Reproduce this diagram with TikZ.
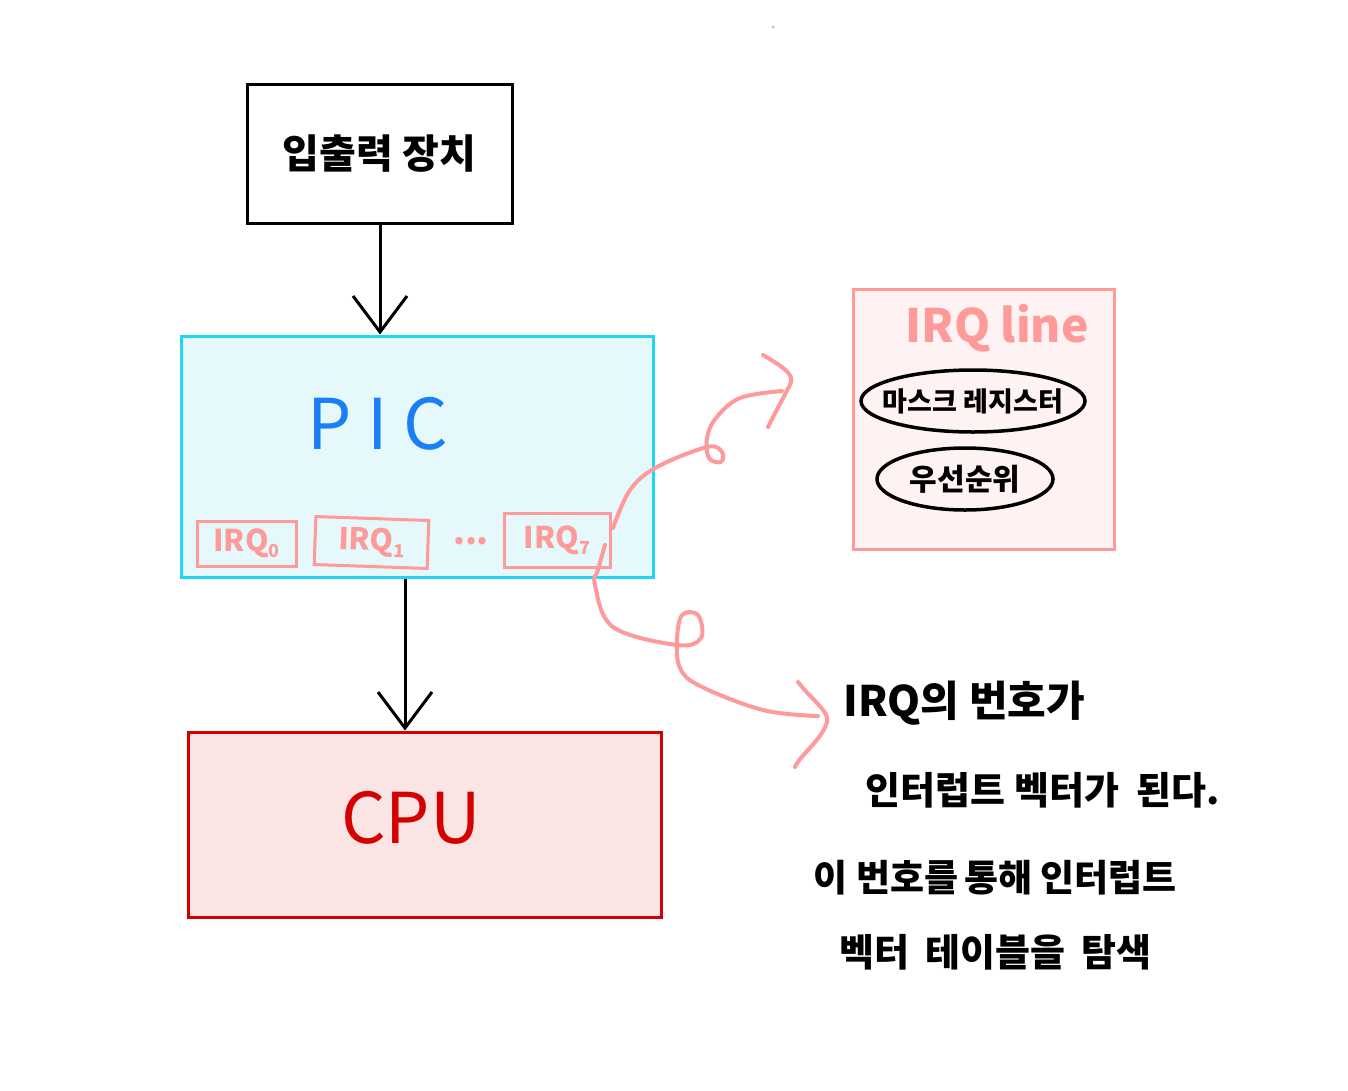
\documentclass[tikz,border=0pt]{standalone}
\usepackage{fontspec}
\setmainfont{Noto Sans CJK KR}
\usetikzlibrary{arrows.meta,shapes.geometric}
\definecolor{pinkc}{HTML}{FF9A9A}
\definecolor{cyanb}{HTML}{1ED6F8}
\definecolor{cyanf}{HTML}{E5F8FC}
\definecolor{bluet}{HTML}{1A7FF5}
\definecolor{redc}{HTML}{D50000}
\definecolor{redf}{HTML}{FAE4E4}
\definecolor{pinkf}{HTML}{FFF2F2}
\newcommand{\irqsub}[1]{\raisebox{-6pt}{\fontsize{18}{20}\selectfont #1}}
\tikzset{
  blackbox/.style={draw=black,line width=3pt,fill=white},
  irqbox/.style={draw=pinkc,line width=3pt,inner sep=0pt,text=pinkc,font=\fontsize{30}{32}\selectfont\bfseries},
  ovalbox/.style={draw=black,line width=3.5pt,ellipse,inner sep=0pt},
  pinkline/.style={draw=pinkc,line width=4pt,line cap=round,line join=round},
  blackarrow/.style={line width=3pt,-{Straight Barb[length=36pt,width=54pt,line width=3pt]}},
  hand/.style={anchor=west,font=\fontsize{38}{40}\selectfont\bfseries}
}
\begin{document}
\begin{tikzpicture}[x=1pt,y=-1pt]
\useasboundingbox (0,0) rectangle (1348,1090);
% IO device
\node[blackbox,minimum width=265pt,minimum height=139pt] (io) at (379.5,153.5) {\fontsize{40}{44}\selectfont\bfseries 입출력 장치};
% PIC
\node[draw=cyanb,fill=cyanf,line width=3pt,minimum width=472pt,minimum height=241pt] (pic) at (417,456.5) {};
\node[text=bluet,font=\fontsize{70}{80}\selectfont] (pict) at (378,424) {P I C};
\node[irqbox,minimum width=99pt,minimum height=45pt] (irq0) at (246.5,543.5) {IRQ\irqsub{0}};
\node[irqbox,minimum width=113pt,minimum height=48pt,rotate=-2] (irq1) at (371.5,542.5) {IRQ\irqsub{1}};
\node[text=pinkc,font=\fontsize{34}{34}\selectfont\bfseries] (dots) at (471,541) {...};
\node[irqbox,minimum width=106pt,minimum height=54pt] (irq7) at (557,540) {IRQ\irqsub{7}};
% CPU
\node[draw=redc,fill=redf,line width=3pt,minimum width=473pt,minimum height=185pt] (cpu) at (424.5,824.5) {};
\node[text=redc,font=\fontsize{70}{80}\selectfont] (cput) at (411,818) {CPU};
% arrows
\draw[blackarrow] (io.south -| 380,0) -- (pic.north -| 380,0);
\draw[blackarrow] (pic.south -| 405,0) -- (cpu.north -| 405,0);
% IRQ line box
\node[draw=pinkc,fill=pinkf,line width=3pt,minimum width=261pt,minimum height=260pt] (irqline) at (983.5,419) {};
\node[text=pinkc,font=\fontsize{46}{50}\selectfont\bfseries] (irqlt) at (997,328) {IRQ line};
\node[ovalbox,minimum width=224pt,minimum height=62pt] (mask) at (973,401) {};
\node[font=\fontsize{27}{30}\selectfont\bfseries] (maskt) at (mask.center) {마스크 레지스터};
\node[ovalbox,minimum width=176pt,minimum height=62pt] (prio) at (965,479) {};
\node[font=\fontsize{30}{32}\selectfont\bfseries] (priot) at (prio.center) {우선순위};
% curly arrows
\coordinate (upA) at (613,528);
\coordinate (loA) at (605,545);
\draw[pinkline] plot[smooth,tension=0.6] coordinates {(upA) (630,490) (657,467) (707,447) (722,452) (721,462) (709,458) (707,438) (716,418) (740,398) (782,391)};
\draw[pinkline] (763,355) .. controls (785,368) and (795,375) .. (790,385) .. controls (782,400) and (775,413) .. (768,427);
\draw[pinkline] plot[smooth,tension=0.6] coordinates {(loA) (598,570) (595,585) (613,627) (677,645) (701,638) (698,615) (682,615) (677,640) (680,668) (700,686) (763,710) (818,716)};
\draw[pinkline] (798,682) .. controls (812,700) and (830,712) .. (827,722) .. controls (822,740) and (800,755) .. (795,767);
\fill[pinkc] (773,27) circle (1.5pt);
% explanation text
\node[hand,font=\fontsize{42}{44}\selectfont\bfseries] (t1) at (840,703) {IRQ의 번호가};
\node[hand] (t2) at (862,790) {인터럽트 벡터가\hspace{18pt}된다.};
\node[hand,font=\fontsize{37}{40}\selectfont\bfseries] (t3) at (810,878) {이 번호를\hspace{6pt}통해\hspace{8pt}인터럽트};
\node[hand] (t4) at (836,952) {벡터\hspace{16pt}테이블을\hspace{16pt}탐색};
\end{tikzpicture}
\end{document}
